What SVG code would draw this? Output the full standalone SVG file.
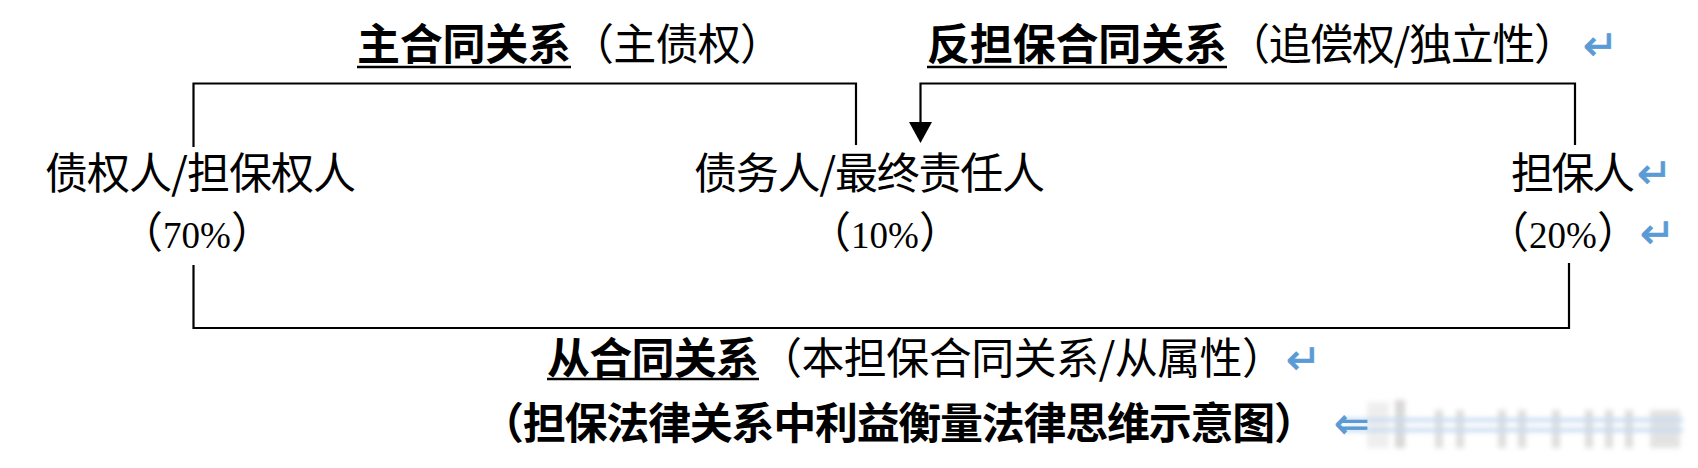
<svg xmlns="http://www.w3.org/2000/svg" width="1698" height="468" viewBox="0 0 1698 468">
<style>
.t{font-family:"Noto Sans CJK SC","Noto Sans CJK JP",sans-serif;font-size:43px;fill:#000}
.b{font-weight:bold}
.n{font-family:"Liberation Serif",serif;font-size:37px}
.pm{font-family:"DejaVu Sans",sans-serif;font-size:42px;fill:#5b9bd5;stroke:#5b9bd5;stroke-width:0.8}
.ln{stroke:#000;stroke-width:2.2;fill:none}
.ul{stroke:#000;stroke-width:2.5}
</style>
<defs>
<filter id="blur" x="-10%" y="-50%" width="120%" height="200%"><feGaussianBlur stdDeviation="2.5"/></filter>
</defs>
<rect width="1698" height="468" fill="#fff"/>
<g id="connectors">
<path class="ln" d="M193.5,147 V83.5 H856 V145"/>
<path d="M1575,145 V83.5 H920.5 V122" class="ln"/>
<path d="M909,122 L932,122 L920.5,143 Z" fill="#000"/>
<path class="ln" d="M193.5,265 V328 H1569 V263"/>
</g>
<g id="title-main">
<text class="t b" x="357" y="60" textLength="214">主合同关系</text>
<line class="ul" x1="357" y1="67" x2="571" y2="67"/>
<text class="t" x="571" y="60" font-size="42" textLength="212">（主债权）</text>
</g>
<g id="title-counter">
<text class="t b" x="927" y="60" textLength="300">反担保合同关系</text>
<line class="ul" x1="927" y1="67" x2="1227" y2="67"/>
<text class="t" x="1227" y="60" font-size="42" textLength="350">（追偿权/独立性）</text>
<text class="pm" x="1583" y="60">↵</text>
</g>
<g id="creditor">
<text class="t" x="45" y="189" textLength="311">债权人/担保权人</text>
<text class="t" x="197" y="248" text-anchor="middle">（<tspan class="n">70%</tspan>）</text>
</g>
<g id="debtor">
<text class="t" x="694" y="189" textLength="351">债务人/最终责任人</text>
<text class="t" x="885" y="248" text-anchor="middle">（<tspan class="n">10%</tspan>）</text>
</g>
<g id="guarantor">
<text class="t" x="1511" y="189" textLength="124">担保人</text>
<text class="pm" x="1637" y="188">↵</text>
<text class="t" x="1563" y="248" text-anchor="middle">（<tspan class="n">20%</tspan>）</text>
<text class="pm" x="1640" y="248">↵</text>
</g>
<g id="title-sub">
<text class="t b" x="547" y="374" textLength="212">从合同关系</text>
<line class="ul" x1="547" y1="379" x2="759" y2="379"/>
<text class="t" x="759" y="374" font-size="42" textLength="526">（本担保合同关系/从属性）</text>
<text class="pm" x="1286" y="374">↵</text>
</g>
<g id="caption">
<text class="t b" x="481" y="439" font-size="44" textLength="836">（担保法律关系中利益衡量法律思维示意图）</text>
<g filter="url(#blur)" opacity="0.6">
<rect x="1367" y="402" width="22" height="46" fill="#e4e4e4"/>
<rect x="1395" y="400" width="10" height="48" fill="#bdbdbd"/>
<rect x="1435" y="410" width="8" height="38" fill="#c8c8c8"/>
<rect x="1456" y="410" width="8" height="38" fill="#c8c8c8"/>
<rect x="1498" y="410" width="8" height="38" fill="#c8c8c8"/>
<rect x="1518" y="410" width="8" height="38" fill="#c8c8c8"/>
<rect x="1552" y="410" width="8" height="38" fill="#c8c8c8"/>
<rect x="1585" y="410" width="8" height="38" fill="#c8c8c8"/>
<rect x="1605" y="410" width="8" height="38" fill="#c8c8c8"/>
<rect x="1625" y="410" width="8" height="38" fill="#c8c8c8"/>
<rect x="1650" y="410" width="30" height="38" fill="#d0d0d0"/>
<rect x="1345" y="418" width="338" height="4" fill="#9ec3e6"/>
<rect x="1345" y="428" width="338" height="4" fill="#9ec3e6"/>
</g>
<text class="pm" x="1334" y="438" font-size="40">⇐</text>
</g>
</svg>
